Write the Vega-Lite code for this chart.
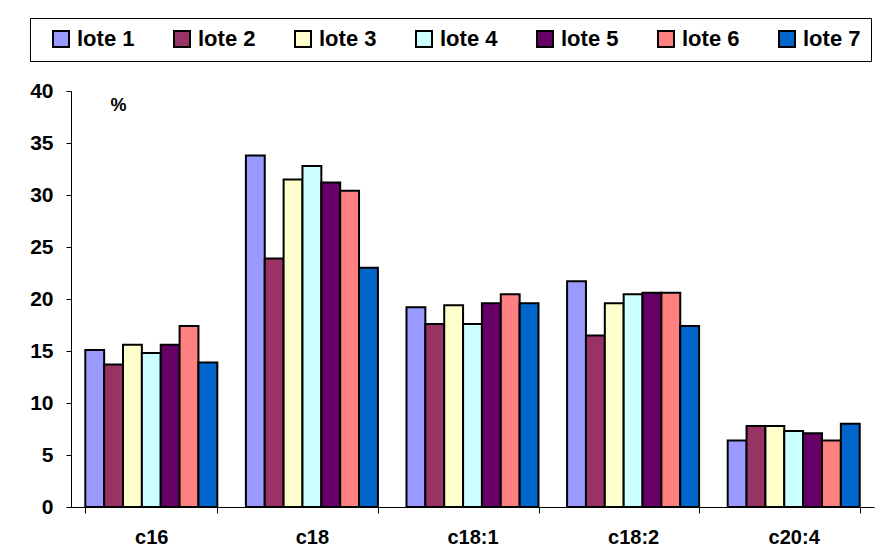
{
  "$schema": "https://vega.github.io/schema/vega-lite/v6.json",
  "autosize": {"type": "none"},
  "padding": {"left": 71, "top": 91, "right": 9, "bottom": 46},
  "width": 803,
  "height": 416,
  "background": "white",
  "data": {
    "values": [
      {"acido": "c16", "lote": "lote 1", "valor": 15.1},
      {"acido": "c16", "lote": "lote 2", "valor": 13.7},
      {"acido": "c16", "lote": "lote 3", "valor": 15.6},
      {"acido": "c16", "lote": "lote 4", "valor": 14.8},
      {"acido": "c16", "lote": "lote 5", "valor": 15.6},
      {"acido": "c16", "lote": "lote 6", "valor": 17.4},
      {"acido": "c16", "lote": "lote 7", "valor": 13.9},
      {"acido": "c18", "lote": "lote 1", "valor": 33.8},
      {"acido": "c18", "lote": "lote 2", "valor": 23.9},
      {"acido": "c18", "lote": "lote 3", "valor": 31.5},
      {"acido": "c18", "lote": "lote 4", "valor": 32.8},
      {"acido": "c18", "lote": "lote 5", "valor": 31.2},
      {"acido": "c18", "lote": "lote 6", "valor": 30.4},
      {"acido": "c18", "lote": "lote 7", "valor": 23.0},
      {"acido": "c18:1", "lote": "lote 1", "valor": 19.2},
      {"acido": "c18:1", "lote": "lote 2", "valor": 17.6},
      {"acido": "c18:1", "lote": "lote 3", "valor": 19.4},
      {"acido": "c18:1", "lote": "lote 4", "valor": 17.6},
      {"acido": "c18:1", "lote": "lote 5", "valor": 19.6},
      {"acido": "c18:1", "lote": "lote 6", "valor": 20.45},
      {"acido": "c18:1", "lote": "lote 7", "valor": 19.6},
      {"acido": "c18:2", "lote": "lote 1", "valor": 21.7},
      {"acido": "c18:2", "lote": "lote 2", "valor": 16.5},
      {"acido": "c18:2", "lote": "lote 3", "valor": 19.6},
      {"acido": "c18:2", "lote": "lote 4", "valor": 20.45},
      {"acido": "c18:2", "lote": "lote 5", "valor": 20.6},
      {"acido": "c18:2", "lote": "lote 6", "valor": 20.6},
      {"acido": "c18:2", "lote": "lote 7", "valor": 17.4},
      {"acido": "c20:4", "lote": "lote 1", "valor": 6.4},
      {"acido": "c20:4", "lote": "lote 2", "valor": 7.8},
      {"acido": "c20:4", "lote": "lote 3", "valor": 7.8},
      {"acido": "c20:4", "lote": "lote 4", "valor": 7.3},
      {"acido": "c20:4", "lote": "lote 5", "valor": 7.1},
      {"acido": "c20:4", "lote": "lote 6", "valor": 6.4},
      {"acido": "c20:4", "lote": "lote 7", "valor": 8.0}
    ]
  },
  "mark": {"type": "bar", "stroke": "black", "strokeWidth": 2, "opacity": 1},
  "encoding": {
    "x": {
      "field": "acido",
      "type": "nominal",
      "sort": null,
      "scale": {"paddingInner": 0.178, "paddingOuter": 0.089},
      "axis": {
        "title": null,
        "labelAngle": 0,
        "tickBand": "extent",
        "tickSize": 6,
        "labelPadding": 14,
        "labelFont": "Liberation Sans",
        "labelFontWeight": "bold",
        "labelFontSize": 20,
        "labelColor": "black",
        "domainColor": "black",
        "tickColor": "black"
      }
    },
    "xOffset": {"field": "lote", "type": "nominal", "sort": null},
    "y": {
      "field": "valor",
      "type": "quantitative",
      "scale": {"domain": [0, 40]},
      "axis": {
        "values": [0, 5, 10, 15, 20, 25, 30, 35, 40],
        "grid": false,
        "tickSize": 5,
        "labelPadding": 13,
        "labelFont": "Liberation Sans",
        "labelFontWeight": "bold",
        "labelFontSize": 21,
        "labelColor": "black",
        "domainColor": "black",
        "tickColor": "black",
        "title": "%",
        "titleAngle": 0,
        "titleX": 47,
        "titleY": 14,
        "titleAlign": "center",
        "titleBaseline": "middle",
        "titleFont": "Liberation Sans",
        "titleFontWeight": "bold",
        "titleFontSize": 18,
        "titleColor": "black"
      }
    },
    "color": {
      "field": "lote",
      "type": "nominal",
      "sort": null,
      "scale": {
        "domain": ["lote 1", "lote 2", "lote 3", "lote 4", "lote 5", "lote 6", "lote 7"],
        "range": ["#9999FF", "#993366", "#FFFFCC", "#CCFFFF", "#660066", "#FF8080", "#0066CC"]
      },
      "legend": {
        "orient": "none",
        "legendX": -41,
        "legendY": -73,
        "direction": "horizontal",
        "columns": 7,
        "title": " ",
        "titleOrient": "left",
        "titleFontSize": 1,
        "titlePadding": 10,
        "symbolType": "square",
        "symbolSize": 256,
        "symbolStrokeColor": "black",
        "symbolStrokeWidth": 2,
        "symbolOpacity": 1,
        "labelFont": "Liberation Sans",
        "labelFontWeight": "bold",
        "labelFontSize": 22,
        "labelColor": "black",
        "labelOffset": 5,
        "columnPadding": 35,
        "padding": 10,
        "strokeColor": "black",
        "fillColor": "white"
      }
    }
  },
  "config": {
    "view": {"stroke": null},
    "axis": {"domainWidth": 1, "tickWidth": 1}
  }
}
